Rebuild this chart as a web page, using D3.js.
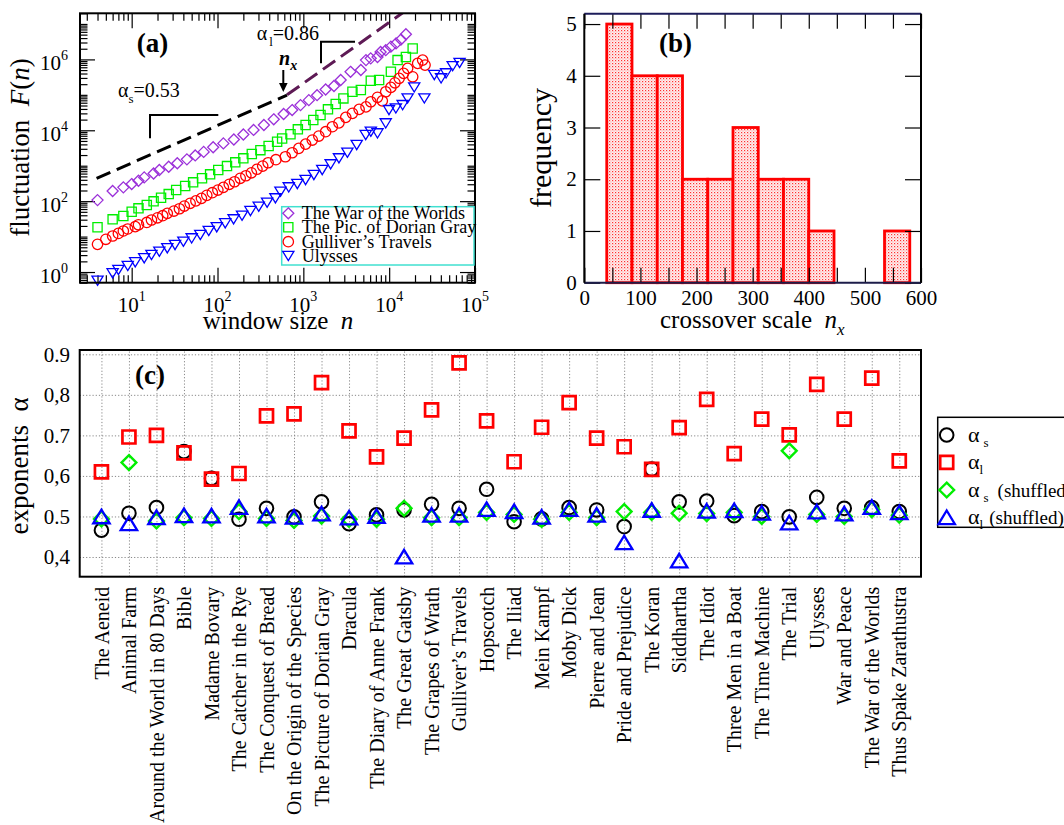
<!DOCTYPE html>
<html><head><meta charset="utf-8">
<script src="https://cdn.jsdelivr.net/npm/d3@7"></script>
<style>
body{margin:0;background:#fff}
svg{display:block}
text{font-family:"Liberation Serif","Times New Roman",Times,serif;fill:#000}
</style></head>
<body><svg id="fig" width="1064" height="825"></svg>
<script>
// ================= DATA =================
// Panel (a): fluctuation F(n) vs window size n
const warN = [4,6,8,10,12,14,18,21,27,34,44,55,69,89,117,155,200,263,347,452,589,741,927,1159,1445,1820,2275,2723,3548,4677,5370,6095,7311,7943,9120,10471,12023,13709,15668];
const warF = [107,193,245,304,377,468,603,759,933,1175,1514,1950,2455,3311,4266,5495,7586,10233,14125,20417,28840,37154,51286,70795,97724,141254,177828,263027,446684,501187,954993,1.07e6,1.17e6,1.62e6,1.82e6,2.29e6,2.82e6,3.63e6,5.13e6];
const dorN = [4,6,8,10,12,15,18,22,27,33,42,52,66,82,102,129,161,200,251,316,394,495,566,708,863,1062,1306,1585,1936,2382,2931,3733,4677,6109,7638,10471,12531,15668,18793];
const dorF = [18.3,30.7,38,50,62.7,77.6,98.9,125,158,206,267,339,441,571,755,977,1245,1614,2138,2754,3589,4742,5888,7762,10617,14028,19498,26915,38905,54954,79433,122180,136458,249459,261216,446684,954993,1.17e6,2.04e6];
const gulN = [4,5,6,7,8,9,11,12,15,17,20,23,26,31,36,41,48,56,65,75,87,101,117,137,158,184,214,248,288,336,389,479,617,741,885,1062,1271,1514,1820,2178,2600,3119,3733,4467,5370,6109,7311,8318,9120,10471,11668,13092,14723,16406,18793,21478,24547,26182];
const gulF = [6.05,8.4,10.4,12.3,14.4,16.4,19.1,21.6,25.1,29.4,33.9,38.9,45.3,52.5,61.1,72.8,87.1,102,120,146,173,206,245,299,353,441,521,631,794,977,1213,1480,1791,2323,3090,4074,5297,6871,9120,12589,16218,23174,30061,38905,45709,63826,85114,67608,122180,162181,218776,291743,403645,558470,323594,772681,954993,691831];
const ulyN = [4,6,7,9,11,14,17,21,26,32,40,50,63,79,98,123,154,193,242,302,378,473,541,676,851,1062,1327,1660,2080,2600,3258,4188,5333,6109,7311,9120,9954,11967,14355,16406,19588,25704,33574,40272,46026,54954,66069];
const ulyF = [0.569,0.92,1.14,1.48,1.88,2.44,3.02,3.75,4.68,5.78,7.18,8.91,11.1,14.4,18.3,23.7,30.7,38.9,52.5,69.7,90.4,120,185,245,304,394,546,755,1094,1614,2323,3828,7328,9120,8185,15668,37154,41495,51286,79433,162181,79433,361410,291743,403645,645654,794328];
const seriesNamesA = ["The War of the Worlds","The Pic. of Dorian Gray","Gulliver’s Travels","Ulysses"];
// guide lines (alpha_s = 0.53 below n_x, alpha_l = 0.86 above n_x)
const guideShortN = [3.9, 646], guideShortF = [440, 98600];
const guideLongN = [646, 21900], guideLongF = [1.0e5, 4.27e7];
const xTicksA = [10,100,1000,10000,100000];
const yTicksA = [1,100,1e4,1e6];

// Panel (b): histogram of crossover scale n_x
const binEdges = [40,85,130,175,220,265,310,355,400,445,490,535,580];
const binCounts = [5,4,4,2,2,3,2,2,1,0,0,1];
const xTicksB = [0,100,200,300,400,500,600];
const yTicksB = [0,1,2,3,4,5];

// Panel (c): exponents per book
const books = ["The Aeneid","Animal Farm","Around the World in 80 Days","Bible","Madame Bovary","The Catcher in the Rye","The Conquest of Bread","On the Origin of the Species","The Picture of Dorian Gray","Dracula","The Diary of Anne Frank","The Great Gatsby","The Grapes of Wrath","Gulliver’s Travels","Hopscotch","The Iliad","Mein Kampf","Moby Dick","Pierre and Jean","Pride and Prejudice","The Koran","Siddhartha","The Idiot","Three Men in a Boat","The Time Machine","The Trial","Ulysses","War and Peace","The War of the Worlds","Thus Spake Zarathustra"];
const alphaS    = [0.466,0.508,0.522,0.660,0.594,0.493,0.520,0.499,0.536,0.482,0.504,0.516,0.530,0.520,0.567,0.487,0.494,0.522,0.516,0.475,0.617,0.536,0.538,0.502,0.512,0.499,0.547,0.520,0.522,0.512];
const alphaL    = [0.610,0.696,0.700,0.657,0.592,0.606,0.748,0.753,0.830,0.711,0.647,0.693,0.763,0.879,0.736,0.635,0.720,0.781,0.693,0.672,0.616,0.719,0.789,0.655,0.740,0.701,0.826,0.740,0.841,0.637];
const alphaSsh  = [0.494,0.633,0.489,0.497,0.495,0.512,0.495,0.490,0.501,0.493,0.493,0.520,0.497,0.497,0.510,0.505,0.493,0.510,0.497,0.512,0.510,0.508,0.507,0.510,0.500,0.662,0.505,0.500,0.517,0.503];
const alphaLsh  = [0.500,0.483,0.498,0.503,0.502,0.523,0.502,0.499,0.507,0.497,0.501,0.401,0.504,0.504,0.518,0.513,0.499,0.518,0.504,0.436,0.516,0.391,0.514,0.515,0.509,0.485,0.512,0.507,0.523,0.510];
const yTicksC = [0.4,0.5,0.6,0.7,0.8,0.9];
const yLabelsC = ["0,4","0.5","0,6","0.7","0,8","0.9"];

// ================= HELPERS =================
const SERIF = '"Liberation Serif","Times New Roman",Times,serif';
const NB = "\u00A0";
const svg = d3.select("#fig");
function symPath(type, a, b){
  switch(type){
    case "diamond": return `M0,${-a}L${a},0L0,${a}L${-a},0Z`;
    case "square": return `M${-a},${-a}H${a}V${a}H${-a}Z`;
    case "circle": return `M${a},0A${a},${a} 0 1,1 ${-a},0A${a},${a} 0 1,1 ${a},0Z`;
    case "triUp": return `M0,${-b}L${a},${b}L${-a},${b}Z`;
    case "triDown": return `M0,${b}L${a},${-b}L${-a},${-b}Z`;
  }
}
function tickAxis(g, axisFn, scale, values, size, tr, sw){
  const ax = g.append("g").attr("transform", tr)
    .call(axisFn(scale).tickValues(values).tickSize(size).tickSizeOuter(0).tickFormat(""));
  ax.select(".domain").remove();
  ax.selectAll("line").attr("stroke","#000").attr("stroke-width", sw||1.2);
  return ax;
}
function logMinors(lo, hi, exclude){
  const out=[];
  for(let k=-2;k<=8;k++) for(let m=1;m<=9;m++){
    const v=m*Math.pow(10,k);
    if(v>=lo*0.999 && v<=hi*1.001 && !exclude.some(e=>Math.abs(e-v)/v<1e-6)) out.push(v);
  }
  return out;
}

// ================= PANEL (a) =================
const A = {l:80, r:475, t:13.3, b:282.7};
const xA = d3.scaleLog().domain([2.5,1e5]).range([A.l,A.r]);
const yA = d3.scaleLog().domain([0.5,2e7]).range([A.b,A.t]);
const gA = svg.append("g");
svg.append("defs").append("clipPath").attr("id","clipA").append("rect")
  .attr("x",A.l).attr("y",A.t).attr("width",A.r-A.l).attr("height",A.b-A.t);

const xMinA = logMinors(2.5,1e5,xTicksA);
const yMinA = logMinors(0.5,2e7,yTicksA);
tickAxis(gA, d3.axisBottom, xA, xTicksA, -15, `translate(0,${A.b})`);
tickAxis(gA, d3.axisBottom, xA, xMinA, -7.5, `translate(0,${A.b})`);
tickAxis(gA, d3.axisTop, xA, xTicksA, -15, `translate(0,${A.t})`);
tickAxis(gA, d3.axisTop, xA, xMinA, -7.5, `translate(0,${A.t})`);
tickAxis(gA, d3.axisLeft, yA, yTicksA, -15, `translate(${A.l},0)`);
tickAxis(gA, d3.axisLeft, yA, yMinA, -7.5, `translate(${A.l},0)`);
tickAxis(gA, d3.axisRight, yA, yTicksA, -15, `translate(${A.r},0)`);
tickAxis(gA, d3.axisRight, yA, yMinA, -7.5, `translate(${A.r},0)`);

// tick labels
xTicksA.forEach(v=>{
  const t = gA.append("text").attr("x",xA(v)).attr("y",312).attr("text-anchor","middle").attr("font-size",21).text("10");
  t.append("tspan").attr("font-size",14).attr("dy",-11).text(Math.round(Math.log10(v)));
});
yTicksA.forEach(v=>{
  const t = gA.append("text").attr("x",68).attr("y",yA(v)+10.5).attr("text-anchor","end").attr("font-size",21).text("10");
  t.append("tspan").attr("font-size",14).attr("dy",-10).text(Math.round(Math.log10(v)));
});

// guide lines
const lineA = d3.line().x(d=>xA(d[0])).y(d=>yA(d[1]));
gA.append("path").attr("clip-path","url(#clipA)")
  .attr("d", lineA(d3.zip(guideShortN,guideShortF))).attr("fill","none")
  .attr("stroke","#000").attr("stroke-width",3).attr("stroke-dasharray","15,7");
gA.append("path").attr("clip-path","url(#clipA)")
  .attr("d", lineA(d3.zip(guideLongN,guideLongF))).attr("fill","none")
  .attr("stroke","#5e1a55").attr("stroke-width",3).attr("stroke-dasharray","15,7");

// series
const seriesA = [
  {n:warN, F:warF, type:"diamond", a:5.5, b:0, color:"#9b30d9"},
  {n:dorN, F:dorF, type:"square", a:4.6, b:0, color:"#00ee00"},
  {n:gulN, F:gulF, type:"circle", a:5.2, b:0, color:"#ff0000"},
  {n:ulyN, F:ulyF, type:"triDown", a:5.6, b:4.6, color:"#0000ff"}
];
seriesA.forEach(s=>{
  gA.append("g").selectAll("path").data(d3.zip(s.n,s.F)).join("path")
    .attr("transform",d=>`translate(${xA(d[0])},${yA(d[1])})`)
    .attr("d",symPath(s.type,s.a,s.b)).attr("fill","none")
    .attr("stroke",s.color).attr("stroke-width",1.3);
});

// frame
gA.append("rect").attr("x",A.l).attr("y",A.t).attr("width",A.r-A.l).attr("height",A.b-A.t)
  .attr("fill","none").attr("stroke","#000").attr("stroke-width",2);

// legend (a)
const legA = gA.append("g");
legA.append("rect").attr("x",281.7).attr("y",206.7).attr("width",192.3).attr("height",58.3)
  .attr("fill","#fff").attr("stroke","#40e0d0").attr("stroke-width",1.5);
const legRowsA = [213.3,227.3,241.7,256];
seriesA.forEach((s,i)=>{
  legA.append("path").attr("transform",`translate(288.3,${legRowsA[i]})`)
    .attr("d",symPath(s.type,s.a,s.b)).attr("fill","none").attr("stroke",s.color).attr("stroke-width",1.3);
  legA.append("text").attr("x",301.7).attr("y",legRowsA[i]+6).attr("font-size",18).text(seriesNamesA[i]);
});

// annotations (a)
gA.append("text").attr("x",136.7).attr("y",52).attr("font-size",27).attr("font-weight","bold").text("(a)");
const tS = gA.append("text").attr("x",118).attr("y",96.7).attr("font-size",20);
tS.append("tspan").text("α");
tS.append("tspan").attr("font-size",13).attr("dy",6).text("s");
tS.append("tspan").attr("dy",-6).text("=0.53");
gA.append("path").attr("d","M150,138.3V115H218.3").attr("fill","none").attr("stroke","#000").attr("stroke-width",2);
const tL = gA.append("text").attr("x",256.7).attr("y",40).attr("font-size",20);
tL.append("tspan").text("α");
tL.append("tspan").attr("font-size",13).attr("dy",6).attr("dx",2).text("l");
tL.append("tspan").attr("dy",-6).text("=0.86");
gA.append("path").attr("d","M321,63.3V41.7H355").attr("fill","none").attr("stroke","#000").attr("stroke-width",2);
const tN = gA.append("text").attr("x",279).attr("y",65).attr("font-size",20).attr("font-weight","bold").attr("font-style","italic");
tN.append("tspan").text("n");
tN.append("tspan").attr("font-size",14).attr("dy",5).text("x");
gA.append("line").attr("x1",283.3).attr("x2",283.3).attr("y1",70).attr("y2",85).attr("stroke","#000").attr("stroke-width",2);
gA.append("path").attr("d","M279,83L287.6,83L283.3,92Z").attr("fill","#000");

// axis titles (a)
const ttlA = gA.append("text").attr("transform","translate(29,147.5) rotate(-90)").attr("text-anchor","middle").attr("font-size",27);
ttlA.append("tspan").text("fluctuation"+NB+NB);
ttlA.append("tspan").attr("font-style","italic").text("F");
ttlA.append("tspan").text("(");
ttlA.append("tspan").attr("font-style","italic").text("n");
ttlA.append("tspan").text(")");
const ttlAx = gA.append("text").attr("x",278).attr("y",329).attr("text-anchor","middle").attr("font-size",25);
ttlAx.append("tspan").text("window size"+NB+NB);
ttlAx.append("tspan").attr("font-style","italic").text("n");

// ================= PANEL (b) =================
const B = {l:584.3, r:921, t:13.7, b:282.7};
const xB = d3.scaleLinear().domain([0,600]).range([B.l,B.r]);
const yB = d3.scaleLinear().domain([0,5.2]).range([B.b,B.t]);
const gB = svg.append("g");
const defs = svg.append("defs");
const pat = defs.append("pattern").attr("id","dots").attr("width",3).attr("height",3).attr("patternUnits","userSpaceOnUse");
pat.append("rect").attr("width",3).attr("height",3).attr("fill","#fff0f0");
pat.append("rect").attr("x",0).attr("y",0).attr("width",1.2).attr("height",1.2).attr("fill","#ff3030");
pat.append("rect").attr("x",1.5).attr("y",1.5).attr("width",1).attr("height",1).attr("fill","#ff8080");

const bins = binCounts.map((c,i)=>({x0:binEdges[i], x1:binEdges[i+1], c}));
gB.append("g").selectAll("rect").data(bins.filter(d=>d.c>0)).join("rect")
  .attr("x",d=>xB(d.x0)).attr("width",d=>xB(d.x1)-xB(d.x0))
  .attr("y",d=>yB(d.c)).attr("height",d=>yB(0)-yB(d.c))
  .attr("fill","url(#dots)").attr("stroke","#ff0000").attr("stroke-width",2.8);

const xAllB = d3.range(0,601,50);
tickAxis(gB, d3.axisBottom, xB, xAllB, -15, `translate(0,${B.b})`);
tickAxis(gB, d3.axisTop, xB, xAllB, -15, `translate(0,${B.t})`);
tickAxis(gB, d3.axisLeft, yB, yTicksB, -16, `translate(${B.l},0)`);
tickAxis(gB, d3.axisRight, yB, yTicksB, -16, `translate(${B.r},0)`);
// labels from axes
const bxl = gB.append("g").attr("transform",`translate(0,${B.b})`)
  .call(d3.axisBottom(xB).tickValues(xTicksB).tickSize(0).tickPadding(7.5).tickFormat(d3.format("d")));
bxl.select(".domain").remove();
bxl.selectAll("text").attr("font-size",21);
const byl = gB.append("g").attr("transform",`translate(${B.l},0)`)
  .call(d3.axisLeft(yB).tickValues(yTicksB).tickSize(0).tickPadding(7.5).tickFormat(d3.format("d")));
byl.select(".domain").remove();
byl.selectAll("text").attr("font-size",21);

gB.append("line").attr("x1",B.l).attr("x2",B.r).attr("y1",B.t).attr("y2",B.t).attr("stroke","#1d1d5a").attr("stroke-width",2);
gB.append("line").attr("x1",B.l).attr("x2",B.r).attr("y1",B.b).attr("y2",B.b).attr("stroke","#1d1d4a").attr("stroke-width",2);
gB.append("line").attr("x1",B.l).attr("x2",B.l).attr("y1",B.t).attr("y2",B.b).attr("stroke","#000").attr("stroke-width",2);
gB.append("line").attr("x1",B.r).attr("x2",B.r).attr("y1",B.t).attr("y2",B.b).attr("stroke","#000").attr("stroke-width",2);

gB.append("text").attr("x",659).attr("y",52).attr("font-size",27).attr("font-weight","bold").text("(b)");
gB.append("text").attr("transform","translate(551,148) rotate(-90)").attr("text-anchor","middle").attr("font-size",30).text("frequency");
const ttlB = gB.append("text").attr("x",660).attr("y",328).attr("font-size",25);
ttlB.append("tspan").text("crossover scale"+NB+NB);
ttlB.append("tspan").attr("font-style","italic").text("n");
ttlB.append("tspan").attr("font-style","italic").attr("font-size",17).attr("dy",7).text("x");

// ================= PANEL (c) =================
const C = {l:79.7, r:921, t:350, b:576.7};
const xC = d3.scalePoint().domain(books).range([C.l,C.r]).padding(0.79);
const yC = d3.scaleLinear().domain([0.3514,0.9106]).range([C.b,C.t]);
const gC = svg.append("g");

const gy = gC.append("g").attr("transform",`translate(${C.l},0)`)
  .call(d3.axisLeft(yC).tickValues(yTicksC).tickSize(-(C.r-C.l)).tickPadding(9.7).tickFormat((d,i)=>yLabelsC[i]));
gy.select(".domain").remove();
gy.selectAll("line").attr("stroke","#888").attr("stroke-width",1).attr("stroke-dasharray","1.2,2");
gy.selectAll("text").attr("font-size",21);

const gx = gC.append("g").attr("transform",`translate(0,${C.b})`)
  .call(d3.axisBottom(xC).tickSize(-(C.b-C.t)));
gx.select(".domain").remove();
gx.selectAll("line").attr("stroke","#888").attr("stroke-width",1).attr("stroke-dasharray","1.2,2");
gx.selectAll("text").attr("font-size",20)
  .attr("transform","rotate(-90)").attr("text-anchor","end")
  .attr("x",-10).attr("y",0).attr("dy","0.33em");

const seriesC = [
  {v:alphaS, type:"circle", a:6.8, b:0, color:"#000", sw:2},
  {v:alphaL, type:"square", a:6.5, b:0, color:"#ff0000", sw:2.7},
  {v:alphaSsh, type:"diamond", a:7.4, b:0, color:"#00ee00", sw:2.4},
  {v:alphaLsh, type:"triUp", a:8.2, b:6.8, color:"#0000ff", sw:2.3}
];
seriesC.forEach(s=>{
  gC.append("g").selectAll("path").data(books).join("path")
    .attr("transform",(d,i)=>`translate(${xC(d)},${yC(s.v[i])})`)
    .attr("d",symPath(s.type,s.a,s.b)).attr("fill","none")
    .attr("stroke",s.color).attr("stroke-width",s.sw);
});
gC.append("rect").attr("x",C.l).attr("y",C.t).attr("width",C.r-C.l).attr("height",C.b-C.t)
  .attr("fill","none").attr("stroke","#000").attr("stroke-width",2);
gC.append("text").attr("x",135).attr("y",384).attr("font-size",27).attr("font-weight","bold").text("(c)");
const ttlC = gC.append("text").attr("transform","translate(28,466) rotate(-90)").attr("text-anchor","middle").attr("font-size",27);
ttlC.append("tspan").text("exponents"+NB+NB+"α");

// legend (c)
const legC = gC.append("g");
legC.append("rect").attr("x",937.7).attr("y",417.3).attr("width",160).attr("height",110)
  .attr("fill","#fff").attr("stroke","#000").attr("stroke-width",1.5);
const legRowsC = [435,462.3,490,517.3];
const legSubs = ["s","l","s","l"];
const legTail = ["","","(shuffled)","(shuffled)"];
seriesC.forEach((s,i)=>{
  legC.append("path").attr("transform",`translate(946.7,${legRowsC[i]})`)
    .attr("d",symPath(s.type,s.a,s.b)).attr("fill","none").attr("stroke",s.color).attr("stroke-width",s.sw);
  const t = legC.append("text").attr("x",968).attr("y",legRowsC[i]+7).attr("font-size",19);
  t.append("tspan").attr("font-size",22).text("α");
  t.append("tspan").attr("font-size",13).attr("dy",5).attr("dx",legSubs[i]==="s"?4:0).text(legSubs[i]);
  if(legTail[i]) t.append("tspan").attr("dy",-5).attr("dx",legSubs[i]==="s"?9:6).text(legTail[i]);
});

// force serif font everywhere (axis groups set sans-serif by default)
svg.selectAll("g").attr("font-family", null);
svg.selectAll("text").style("font-family", SERIF);
</script>
</body></html>
